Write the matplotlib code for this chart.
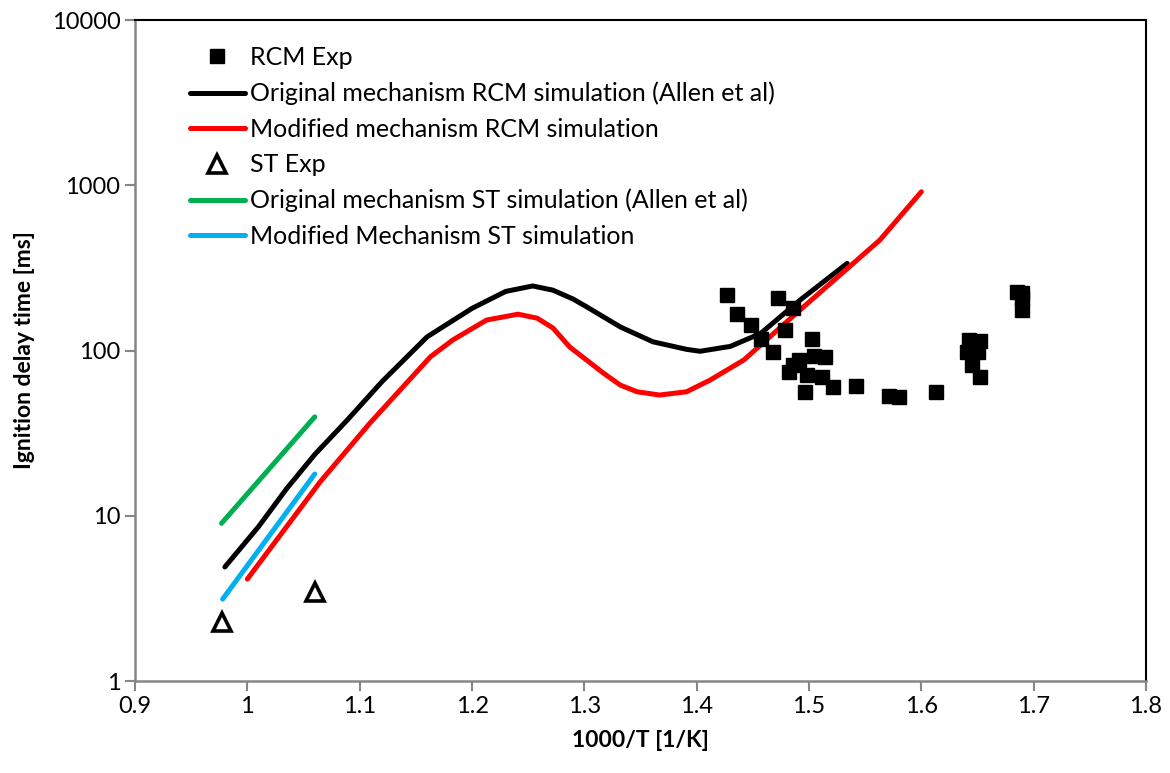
import matplotlib
matplotlib.use("Agg")
import matplotlib.pyplot as plt

# RCM experiments (1000/T, ignition delay in ms)
rcm_x = [1.427, 1.472, 1.436, 1.486, 1.448, 1.479, 1.457, 1.503, 1.468, 1.504,
         1.514, 1.491, 1.486, 1.482, 1.498, 1.512, 1.521, 1.496, 1.542, 1.571,
         1.580, 1.613, 1.642, 1.652, 1.641, 1.650, 1.645, 1.652, 1.685, 1.690,
         1.690, 1.690]
rcm_y = [217, 207, 166, 182, 143, 134, 117, 118, 98, 93,
         91, 88, 82, 74, 71, 69, 60, 56, 61, 53,
         52.5, 56, 116, 115, 98, 98, 82, 69, 227, 222,
         207, 176]

# shock tube experiments
st_x = [0.977, 1.060]
st_y = [2.29, 3.47]

# original mechanism RCM simulation (Allen et al)
orig_rcm_x = [0.980, 1.010, 1.035, 1.060, 1.089, 1.120, 1.160, 1.200, 1.230, 1.254, 1.272,
              1.290, 1.302, 1.332, 1.361, 1.391, 1.403, 1.430, 1.457, 1.492, 1.534]
orig_rcm_y = [4.9, 8.6, 14.6, 23.5, 38, 65, 121, 180, 228, 246, 232,
              205, 184, 139, 113, 101.7, 99, 106, 127, 202, 337]

# modified mechanism RCM simulation
mod_rcm_x = [1.000, 1.065, 1.109, 1.163, 1.183, 1.213, 1.241, 1.258, 1.272,
             1.287, 1.302, 1.317, 1.332, 1.347, 1.367, 1.391, 1.412, 1.442,
             1.492, 1.563, 1.600]
mod_rcm_y = [4.14, 16.1, 36.3, 91.7, 116, 153, 166, 157, 137,
             105, 87.6, 73, 61.8, 56.3, 53.8, 56.3, 66.3, 87.7,
             176, 466, 914]

# shock tube simulations
orig_st_x = [0.977, 1.060]
orig_st_y = [9.0, 39.7]
mod_st_x = [0.978, 1.060]
mod_st_y = [3.13, 17.9]

plt.rcParams['font.family'] = ['Lato', 'DejaVu Sans']

fig = plt.figure(figsize=(11.7, 7.73), dpi=100)
ax = fig.add_axes([0.1154, 0.119, 0.8641, 0.855])

lw = 3.6
ax.plot(rcm_x, rcm_y, 's', color='black', ms=10, label='RCM Exp', zorder=4)
ax.plot(orig_rcm_x, orig_rcm_y, color='black', lw=lw, solid_capstyle='round',
        solid_joinstyle='round', label='Original mechanism RCM simulation (Allen et al)')
ax.plot(mod_rcm_x, mod_rcm_y, color='#ff0000', lw=lw, solid_capstyle='round',
        solid_joinstyle='round', label='Modified mechanism RCM simulation')
ax.plot(st_x, st_y, '^', color='black', ms=13, mfc='white', mew=2.6,
        label='ST Exp', zorder=4)
ax.plot(orig_st_x, orig_st_y, color='#00b050', lw=lw, solid_capstyle='round',
        label='Original mechanism ST simulation (Allen et al)')
ax.plot(mod_st_x, mod_st_y, color='#00b0f0', lw=lw, solid_capstyle='round',
        label='Modified Mechanism ST simulation')

ax.set_yscale('log')
ax.set_xlim(0.9, 1.8)
ax.set_ylim(1, 10000)
ax.set_xticks([0.9, 1.0, 1.1, 1.2, 1.3, 1.4, 1.5, 1.6, 1.7, 1.8])
ax.set_xticklabels(['0.9', '1', '1.1', '1.2', '1.3', '1.4', '1.5', '1.6', '1.7', '1.8'])
ax.set_yticks([1, 10, 100, 1000, 10000])
ax.set_yticklabels(['1', '10', '100', '1000', '10000'])
ax.minorticks_off()
ax.tick_params(axis='both', direction='out', length=7, width=1.5,
               color='#868686', labelsize=17, labelcolor='black')

for s in ['left', 'bottom']:
    ax.spines[s].set_color('#868686')
    ax.spines[s].set_linewidth(1.8)
for s in ['top', 'right']:
    ax.spines[s].set_color('black')
    ax.spines[s].set_linewidth(1.5)

ax.set_xlabel('1000/T [1/K]', fontsize=16.5, fontweight='bold', labelpad=10)
ax.set_ylabel('Ignition delay time [ms]', fontsize=16.5, fontweight='bold', labelpad=12)

ax.legend(loc='upper left', bbox_to_anchor=(0.054, 0.9605), frameon=False,
          fontsize=18, handlelength=2.2, handletextpad=0.2, labelspacing=0.5,
          borderpad=0, borderaxespad=0)

fig.savefig('out.png', dpi=100)
